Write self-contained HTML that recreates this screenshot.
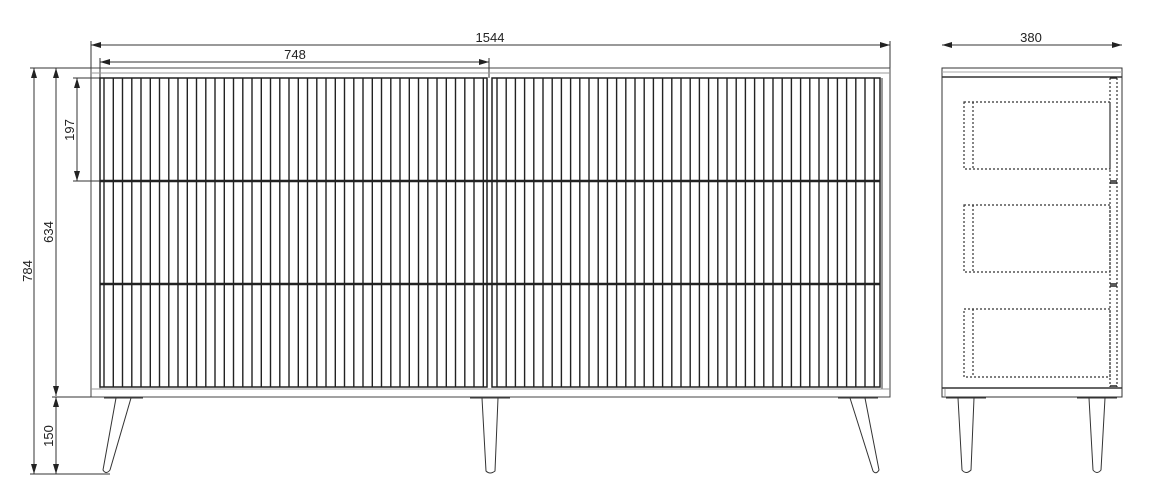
<!DOCTYPE html>
<html><head><meta charset="utf-8"><style>
html,body{margin:0;padding:0;background:#fff;}
svg{display:block;}
text{font-family:"Liberation Sans",sans-serif;font-size:13px;fill:#222;}
</style></head><body>
<svg id="s" width="1159" height="495" viewBox="0 0 1159 495" xmlns="http://www.w3.org/2000/svg">
<defs>
<marker id="a" markerWidth="10" markerHeight="6" refX="10" refY="3" orient="auto-start-reverse" markerUnits="userSpaceOnUse"><path d="M0,0 L10,3 L0,6 Z" fill="#222"/></marker>
</defs>
<g stroke="#333" stroke-width="1" fill="none">
<!-- dimension lines -->
<line x1="91" y1="45" x2="890" y2="45" marker-start="url(#a)" marker-end="url(#a)"/>
<line x1="91" y1="41" x2="91" y2="70"/><line x1="890" y1="41" x2="890" y2="70"/>
<line x1="100" y1="62" x2="489" y2="62" marker-start="url(#a)" marker-end="url(#a)"/>
<line x1="100" y1="58" x2="100" y2="78"/><line x1="489" y1="58" x2="489" y2="78"/>
<line x1="34" y1="68" x2="34" y2="474" marker-start="url(#a)" marker-end="url(#a)"/>
<line x1="56" y1="68" x2="56" y2="396" marker-start="url(#a)" marker-end="url(#a)"/>
<line x1="56" y1="397" x2="56" y2="474" marker-start="url(#a)" marker-end="url(#a)"/>
<line x1="77" y1="78" x2="77" y2="181" marker-start="url(#a)" marker-end="url(#a)"/>
<line x1="30" y1="68" x2="100" y2="68"/>
<line x1="73" y1="78" x2="100" y2="78"/><line x1="73" y1="181" x2="100" y2="181"/>
<line x1="52" y1="397" x2="100" y2="397"/>
<line x1="30" y1="474" x2="110" y2="474"/>
<line x1="942" y1="45" x2="1122" y2="45" marker-start="url(#a)" marker-end="url(#a)"/>
<!-- front cabinet -->
<rect x="91" y="68" width="799" height="329" stroke="#444"/>
<line x1="91" y1="73" x2="890" y2="73" stroke="#999"/>
<line x1="91" y1="389" x2="890" y2="389" stroke="#999"/>
<line x1="100" y1="78" x2="100" y2="389" stroke="#999"/>
<line x1="882" y1="78" x2="882" y2="389" stroke="#999" stroke-width="2"/>
<g stroke="#222" stroke-width="1.5">
<rect x="100" y="78" width="387" height="309"/>
<rect x="492" y="78" width="388" height="309"/>
<line x1="100" y1="181" x2="880" y2="181" stroke-width="2.5"/>
<line x1="100" y1="284" x2="880" y2="284" stroke-width="2.5"/>
</g>
<g id="slats" stroke="#222" stroke-width="1.4"></g>
<!-- legs front -->
<line x1="104" y1="398" x2="143" y2="398"/>
<path d="M116,398 L103,470 Q106,475 110,470 L131,398"/>
<line x1="470" y1="398" x2="510" y2="398"/>
<path d="M482,398 L486,471 Q490,475 495,471 L498,398"/>
<line x1="838" y1="398" x2="878" y2="398"/>
<path d="M850,398 L873,471 Q876,475 879,470 L865,398"/>
<!-- side view -->
<rect x="942" y="68" width="180" height="329"/>
<line x1="942" y1="77" x2="1122" y2="77" stroke-width="1.5"/>
<line x1="942" y1="388" x2="1122" y2="388" stroke-width="1.5"/>
<line x1="945" y1="389" x2="945" y2="397" stroke="#999"/>
<g stroke-dasharray="2,2" stroke="#333" stroke-width="1.2">
<rect x="964" y="102" width="146" height="67"/><line x1="973" y1="102" x2="973" y2="169"/>
<rect x="964" y="205" width="146" height="67"/><line x1="973" y1="205" x2="973" y2="272"/>
<rect x="964" y="309" width="146" height="68"/><line x1="973" y1="309" x2="973" y2="377"/>
<line x1="1110" y1="78" x2="1110" y2="387"/><line x1="1117" y1="78" x2="1117" y2="387"/>
</g>
<g stroke="#222" stroke-width="1.5">
<line x1="1110" y1="78" x2="1117" y2="78"/>
<line x1="1110" y1="181" x2="1117" y2="181"/><line x1="1110" y1="183" x2="1117" y2="183"/>
<line x1="1110" y1="284" x2="1117" y2="284"/><line x1="1110" y1="286" x2="1117" y2="286"/>
<line x1="1110" y1="386" x2="1117" y2="386"/>
</g>
<line x1="946" y1="398" x2="986" y2="398"/>
<path d="M958,398 L962,470 Q966,475 971,470 L974,398"/>
<line x1="1077" y1="398" x2="1117" y2="398"/>
<path d="M1089,398 L1093,470 Q1097,475 1101,470 L1105,398"/>
</g>
<text x="490" y="42" text-anchor="middle">1544</text>
<text x="295" y="59" text-anchor="middle">748</text>
<text x="1031" y="42" text-anchor="middle">380</text>
<text transform="translate(32,271) rotate(-90)" text-anchor="middle">784</text>
<text transform="translate(53,232) rotate(-90)" text-anchor="middle">634</text>
<text transform="translate(74,130) rotate(-90)" text-anchor="middle">197</text>
<text transform="translate(53,436) rotate(-90)" text-anchor="middle">150</text>
</svg>
<script>
var g=document.getElementById('slats'),ns='http://www.w3.org/2000/svg';
function add(x){var l=document.createElementNS(ns,'line');l.setAttribute('x1',x);l.setAttribute('x2',x);l.setAttribute('y1',78);l.setAttribute('y2',387);g.appendChild(l);}
for(var x=104;x<=485;x+=9.25)add(x.toFixed(1));
for(var x=497;x<=878;x+=9.2)add(x.toFixed(1));
for(var y=78;y<=388;y+=103){}
var s=document.getElementById('s');
[[942,70],[1122,70]].forEach(function(p){});
var l2=document.createElementNS(ns,'line');l2.setAttribute('x1',942);l2.setAttribute('x2',1122);l2.setAttribute('y1',72);l2.setAttribute('y2',72);l2.setAttribute('stroke','#aaa');s.appendChild(l2);
</script>
</body></html>
